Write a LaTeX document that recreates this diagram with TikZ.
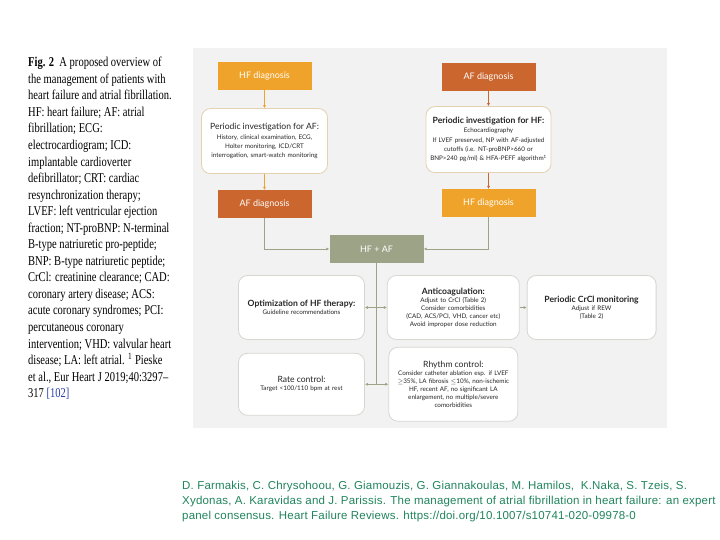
\documentclass[tikz,border=0pt]{standalone}
\usepackage{fontspec}
\setmainfont{Liberation Serif}
\newfontfamily\capfont[FakeStretch=0.78]{Liberation Serif}
\newfontfamily\diagfont{Lato}
\newfontfamily\citefont[LetterSpace=1.7]{Liberation Sans}
\usetikzlibrary{arrows.meta, positioning, calc}
\definecolor{hfcol}{RGB}{240,163,42}
\definecolor{afcol}{RGB}{202,102,46}
\definecolor{sage}{RGB}{156,163,134}
\definecolor{panelgray}{RGB}{242,242,242}
\definecolor{tanline}{RGB}{228,208,178}
\definecolor{greyline}{RGB}{214,214,208}
\definecolor{citegreen}{RGB}{32,132,92}
\definecolor{refblue}{RGB}{40,60,170}
\newcommand{\ttl}[1]{{\fontsize{8.6}{11}\selectfont #1}}

\begin{document}
\begin{tikzpicture}[
            x=1pt, y=1pt,
            node distance=16pt and 20pt,
            diagbox/.style={rectangle, minimum width=94pt, minimum height=28pt, text=white, inner sep=2pt, font=\diagfont\fontsize{9}{11}\selectfont},
            hfbox/.style={diagbox, fill=hfcol},
            afbox/.style={diagbox, fill=afcol},
            gbox/.style={diagbox, fill=sage},
            infobox/.style={rectangle, rounded corners=9pt, fill=white, draw=greyline, thick, text width=#1, align=center, inner sep=3pt, text=black!85, font=\diagfont\fontsize{6.3}{8}\selectfont},
            topbox/.style={infobox=#1, draw=tanline, font=\diagfont\fontsize{6.3}{9.3}\selectfont},
            hfarrow/.style={-{Latex[length=3pt, width=3pt]}, hfcol, thick},
            afarrow/.style={-{Latex[length=3pt, width=3pt]}, afcol, thick},
            garrow/.style={-{Latex[length=3pt, width=3pt]}, sage, thick},
            gline/.style={sage, thick}
        ]
            \useasboundingbox (0,0) rectangle (720,-540);
            \fill[panelgray] (193,-48) rectangle (667,-428);

            % caption
            \node[anchor=north west, align=left, inner sep=0, font=\capfont\fontsize{13.5}{16.55}\selectfont] (caption) at (28,-57) {%
                {\bfseries Fig. 2} \ A proposed overview of\\
                the management of patients with\\
                heart failure and atrial fibrillation.\\
                HF: heart failure; AF: atrial\\
                fibrillation; ECG:\\
                electrocardiogram; ICD:\\
                implantable cardioverter\\
                defibrillator; CRT: cardiac\\
                resynchronization therapy;\\
                LVEF: left ventricular ejection\\
                fraction; NT-proBNP: N-terminal\\
                B-type natriuretic pro-peptide;\\
                BNP: B-type natriuretic peptide;\\
                CrCl: creatinine clearance; CAD:\\
                coronary artery disease; ACS:\\
                acute coronary syndromes; PCI:\\
                percutaneous coronary\\
                intervention; VHD: valvular heart\\
                disease; LA: left atrial. \textsuperscript{1} Pieske\\
                et al., Eur Heart J 2019;40:3297–\\
                317 {\color{refblue}[102]}};

            % left column: HF first
            \node[hfbox] (hfL) at (264.5,-76) {HF diagnosis};
            \node[topbox=120pt, minimum height=65pt, below=18pt of hfL] (perAF) {\ttl{Periodic investigation for AF:}\\History, clinical examination, ECG,\\Holter monitoring, ICD/CRT\\interrogation, smart-watch monitoring};
            \node[afbox, below=16pt of perAF] (afL) {AF diagnosis};

            % right column: AF first
            \node[afbox] (afR) at (488.5,-77) {AF diagnosis};
            \node[topbox=119pt, minimum height=66pt, below=15pt of afR] (perHF) {\ttl{\bfseries Periodic investigation for HF:}\\Echocardiography\\If LVEF preserved, NP with AF-adjusted\\cutoffs (i.e. NT-proBNP>660 or\\BNP>240 pg/ml) \& HFA-PEFF algorithm\textsuperscript{1}};
            \node[hfbox, below=16pt of perHF] (hfR) {HF diagnosis};

            \node[gbox] (hfaf) at ($(afL.south)!.5!(hfR.south)+(0,-31)$) {HF + AF};

            % management
            \node[infobox=120pt, minimum height=64pt, below=12pt of hfaf, xshift=-75pt] (optim) {\ttl{\bfseries Optimization of HF therapy:}\\Guideline recommendations};
            \node[infobox=126pt, minimum height=64pt, right=22pt of optim] (anticoag) {\ttl{\bfseries Anticoagulation:}\\Adjust to CrCl (Table 2)\\Consider comorbidities\\(CAD, ACS/PCI, VHD, cancer etc)\\Avoid improper dose reduction};
            \node[infobox=123pt, minimum height=64pt, right=7pt of anticoag] (crcl) {\ttl{\bfseries Periodic CrCl monitoring}\\Adjust if REW\\(Table 2)};
            \node[infobox=120pt, minimum height=62pt, below=13pt of optim] (rate) {\ttl{Rate control:}\\Target <100/110 bpm at rest};
            \node[infobox=123pt, minimum height=74pt, below=7pt of anticoag] (rhythm) {\ttl{Rhythm control:}\\Consider catheter ablation esp. if LVEF\\$\geq$35\%, LA fibrosis $\leq$10\%, non-ischemic\\HF, recent AF, no significant LA\\enlargement, no multiple/severe\\comorbidities};

            \draw[hfarrow] (hfL) -- (perAF);
            \draw[hfarrow] (perAF) -- (afL);
            \draw[afarrow] (afR) -- (perHF);
            \draw[afarrow] (perHF) -- (hfR);
            \draw[garrow] (afL.south) |- (hfaf.west);
            \draw[garrow] (hfR.south) |- (hfaf.east);
            \draw[gline] (hfaf.south) -- (hfaf.south |- rate.east);
            \draw[garrow, {Latex[length=3pt, width=3pt]}-{Latex[length=3pt, width=3pt]}] (optim.east) -- (anticoag.west);
            \draw[garrow, {Latex[length=3pt, width=3pt]}-{Latex[length=3pt, width=3pt]}] (rate.east) -- (rhythm.west);
            \draw[garrow] (anticoag) -- (crcl);

            % citation
            \node[anchor=north west, align=left, inner sep=0, text=citegreen, font=\citefont\fontsize{11.5}{15.2}\selectfont] (cite) at (182,-481) {%
                D. Farmakis, C. Chrysohoou, G. Giamouzis, G. Giannakoulas, M. Hamilos, \ K.Naka, S. Tzeis, S.\\
                Xydonas, A. Karavidas and J. Parissis. The management of atrial fibrillation in heart failure: an expert\\
                panel consensus. Heart Failure Reviews. https://doi.org/10.1007/s10741-020-09978-0};
        \end{tikzpicture}
\end{document}
